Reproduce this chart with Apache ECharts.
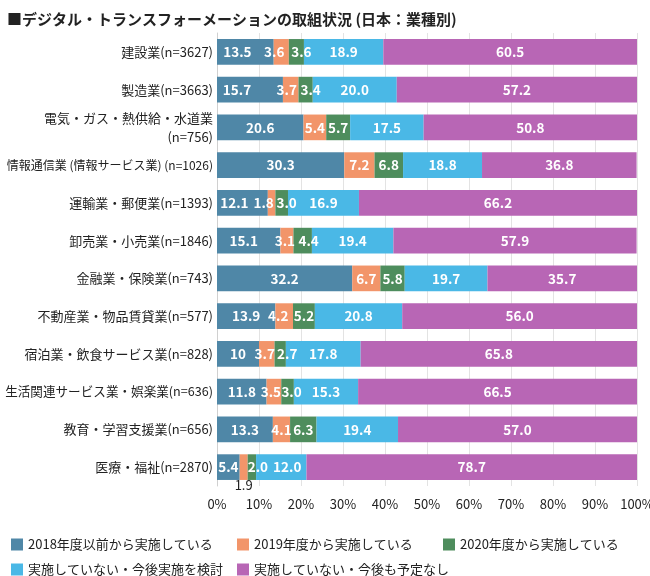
<!DOCTYPE html>
<html><head><meta charset="utf-8">
<script src="https://cdn.jsdelivr.net/npm/echarts@6/dist/echarts.min.js"></script>
<style>html,body{margin:0;padding:0;background:#fff}#c{width:650px;height:576px}</style>
</head><body><div id="c"></div>
<script>
const titleText = '■デジタル・トランスフォーメーションの取組状況 (日本：業種別)';
const categories = [
  '建設業(n=3627)',
  '製造業(n=3663)',
  '電気・ガス・熱供給・水道業\n(n=756)',
  '情報通信業 (情報サービス業) (n=1026)',
  '運輸業・郵便業(n=1393)',
  '卸売業・小売業(n=1846)',
  '金融業・保険業(n=743)',
  '不動産業・物品賃貸業(n=577)',
  '宿泊業・飲食サービス業(n=828)',
  '生活関連サービス業・娯楽業(n=636)',
  '教育・学習支援業(n=656)',
  '医療・福祉(n=2870)'
];
const seriesNames = ['2018年度以前から実施している','2019年度から実施している','2020年度から実施している','実施していない・今後実施を検討','実施していない・今後も予定なし'];
const s2018 = ['13.5','15.7','20.6','30.3','12.1','15.1','32.2','13.9','10','11.8','13.3','5.4'];
const s2019 = ['3.6','3.7','5.4','7.2','1.8','3.1','6.7','4.2','3.7','3.5','4.1','1.9'];
const s2020 = ['3.6','3.4','5.7','6.8','3.0','4.4','5.8','5.2','2.7','3.0','6.3','2.0'];
const sConsider = ['18.9','20.0','17.5','18.8','16.9','19.4','19.7','20.8','17.8','15.3','19.4','12.0'];
const sNone = ['60.5','57.2','50.8','36.8','66.2','57.9','35.7','56.0','65.8','66.5','57.0','78.7'];
const xTicks = ['0%','10%','20%','30%','40%','50%','60%','70%','80%','90%','100%'];
const colors = ['#4F87A7','#F2956A','#4E8D5D','#4AB8E6','#B866B5'];
const allSeries = [s2018, s2019, s2020, sConsider, sNone];
const FONT = 'Noto Sans CJK JP';

// horizontal nudges of crowded labels (style only), key = series-row
const labelNudge = {'0-0':-8,'0-1':-13,'0-4':-8,'0-5':-5,'1-0':-7,'2-0':5,'1-1':-4,'2-1':5,
  '1-4':-8,'2-4':5,'1-5':-2,'2-5':6,'1-7':-6,'2-8':7,'1-8':-2,'1-9':-3,'2-9':4,'2-11':6,'3-11':6};

const chart = echarts.init(document.getElementById('c'), null, {renderer:'canvas'});
const series = allSeries.map((arr, si) => ({
  name: seriesNames[si],
  type: 'bar',
  stack: 'total',
  barCategoryGap: '32%',
  itemStyle: {color: colors[si]},
  label: {
    show: true, position: 'inside', color: '#fff', fontWeight: 'bold',
    fontSize: 13.5, fontFamily: FONT,
    formatter: p => arr[p.dataIndex]
  },
  data: arr.map((v, i) => {
    const item = {value: parseFloat(v)};
    const k = si + '-' + i;
    if (labelNudge[k]) item.label = {offset: [labelNudge[k], 0]};
    // small value drawn below bar in the reference
    if (si === 1 && i === 11) {
      item.label = {position: 'bottom', distance: -1, color: '#222', fontWeight: 'normal', fontSize: 13};
    }
    return item;
  })
}));

const legendLeft = [6, 232, 438, 6, 232];
const legendTop = [533, 533, 533, 558, 558];
const legends = seriesNames.map((n, i) => ({
  data: [n], left: legendLeft[i], top: legendTop[i],
  itemWidth: 12, itemHeight: 12, icon: 'rect',
  textStyle: {fontSize: 13, color: '#222', fontFamily: FONT},
  selectedMode: false
}));

chart.setOption({
  animation: false,
  textStyle: {fontFamily: FONT},
  title: {text: titleText, left: 2, top: 7, textStyle: {fontSize: 15, fontWeight: 'bold', color: '#222', fontFamily: FONT}},
  legend: legends,
  grid: {left: 217, right: 13, top: 33, bottom: 90, containLabel: false, outerBoundsMode: 'none'},
  xAxis: {
    type: 'value', min: 0, max: 100, interval: 10,
    axisLine: {show: false}, axisTick: {show: false},
    splitLine: {show: true, lineStyle: {color: '#e3e3e3', width: 1}},
    axisLabel: {
      color: '#222', fontSize: 13, margin: 12, fontFamily: FONT,
      formatter: (v) => xTicks[Math.round(v / 10)]
    }
  },
  yAxis: {
    type: 'category', inverse: true, data: categories,
    axisLine: {show: true, lineStyle: {color: '#d0d0d0'}}, axisTick: {show: false},
    axisLabel: {
      color: '#222', fontSize: 13, margin: 4, fontFamily: FONT, lineHeight: 19,
      formatter: (v) => v.startsWith('情報') ? '{s|' + v + '}' : (v.startsWith('生活') ? '{m|' + v + '}' : v),
      rich: {s: {fontSize: 12, color: '#222', fontFamily: FONT}, m: {fontSize: 12.6, color: '#222', fontFamily: FONT}}
    }
  },
  series: series
});
</script></body></html>
